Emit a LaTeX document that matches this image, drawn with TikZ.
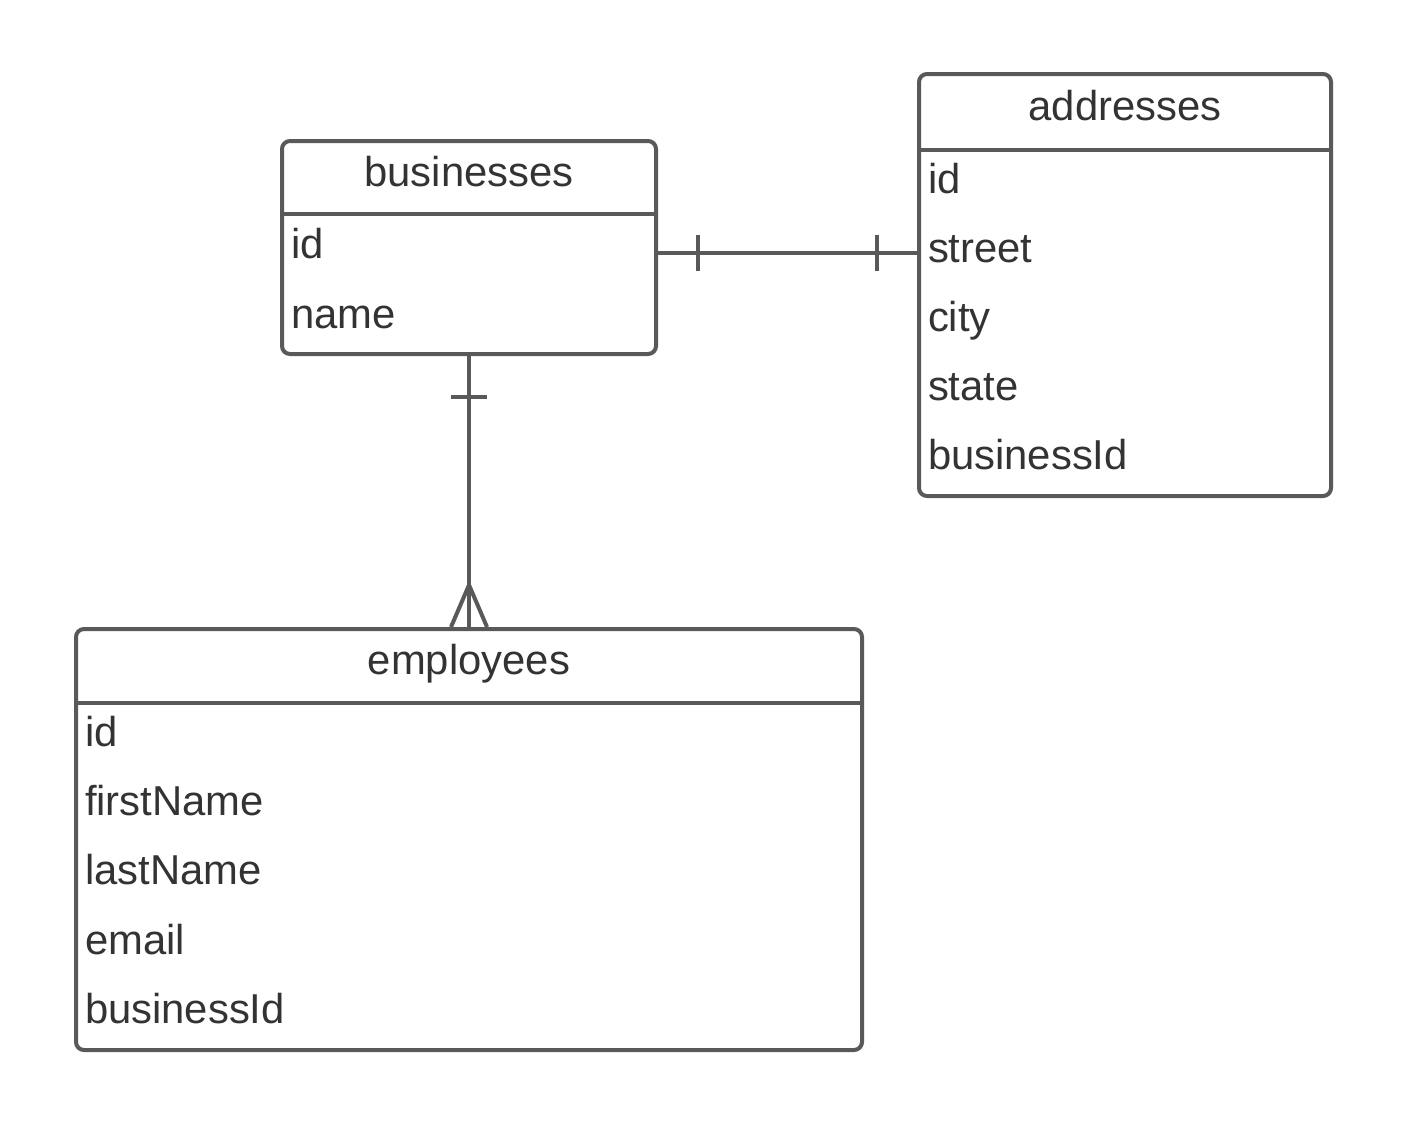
\documentclass[tikz,border=0pt]{standalone}
\usepackage{fontspec}
\setmainfont{Liberation Sans}
\usetikzlibrary{calc}
\definecolor{edgegray}{HTML}{595959}
\definecolor{textgray}{HTML}{333333}
\begin{document}
\begin{tikzpicture}[
	x=0.5pt, y=-0.5pt,
	line width=2pt,
	font=\fontsize{20.9}{24}\selectfont,
	text=textgray,
	tbl/.style={
		draw=edgegray,
		rectangle,
		rounded corners=4pt,
		inner sep=0pt
	},
	head/.style={
		anchor=base,
		inner sep=0pt
	},
	row/.style={
		anchor=base west,
		inner xsep=4.5pt,
		inner ysep=0pt
	},
	link/.style={
		draw=edgegray
	}
]
\useasboundingbox (0,0) rectangle (1406,1125);

% tables
\node[tbl, minimum width=187pt, minimum height=106.5pt] (bus) at (469,247.5) {};
\node[tbl, minimum width=206pt, minimum height=211pt] (addr) at (1125,285) {};
\node[tbl, minimum width=393pt, minimum height=210.5pt] (emp) at (469,839.5) {};

\draw[link] (bus.west |- 0,214) -- (bus.east |- 0,214);
\draw[link] (addr.west |- 0,150) -- (addr.east |- 0,150);
\draw[link] (emp.west |- 0,703) -- (emp.east |- 0,703);

\node[head] (bushead) at (469,186) {businesses};
\node[head] (addrhead) at (1125,120) {addresses};
\node[head] (emphead) at (469,674) {employees};

\node[row] (busid) at (bus.west |- 0,258) {id};
\node[row] (busname) at (bus.west |- 0,328) {name};

\node[row] (addrid) at (addr.west |- 0,193) {id};
\node[row] (addrstreet) at (addr.west |- 0,262) {street};
\node[row] (addrcity) at (addr.west |- 0,331) {city};
\node[row] (addrstate) at (addr.west |- 0,400) {state};
\node[row] (addrbus) at (addr.west |- 0,469) {businessId};

\node[row] (empid) at (emp.west |- 0,746) {id};
\node[row] (empfirst) at (emp.west |- 0,815) {firstName};
\node[row] (emplast) at (emp.west |- 0,884) {lastName};
\node[row] (empmail) at (emp.west |- 0,954) {email};
\node[row] (empbus) at (emp.west |- 0,1023) {businessId};

% one to one
\coordinate (ba1) at (bus.east |- 0,253);
\coordinate (ba2) at (addr.west |- 0,253);
\draw[link] (ba1) -- (ba2);
\draw[link] ($(ba1)+(40,-18)$) -- ($(ba1)+(40,18)$);
\draw[link] ($(ba2)+(-40,-18)$) -- ($(ba2)+(-40,18)$);

% one to many
\draw[link] (bus.south) -- (emp.north);
\draw[link] ($(bus.south)+(-18,41)$) -- ($(bus.south)+(18,41)$);
\draw[link] ($(emp.north)+(0,-42)$) -- ($(emp.north)+(-18,0)$);
\draw[link] ($(emp.north)+(0,-42)$) -- ($(emp.north)+(18,0)$);

\end{tikzpicture}
\end{document}
